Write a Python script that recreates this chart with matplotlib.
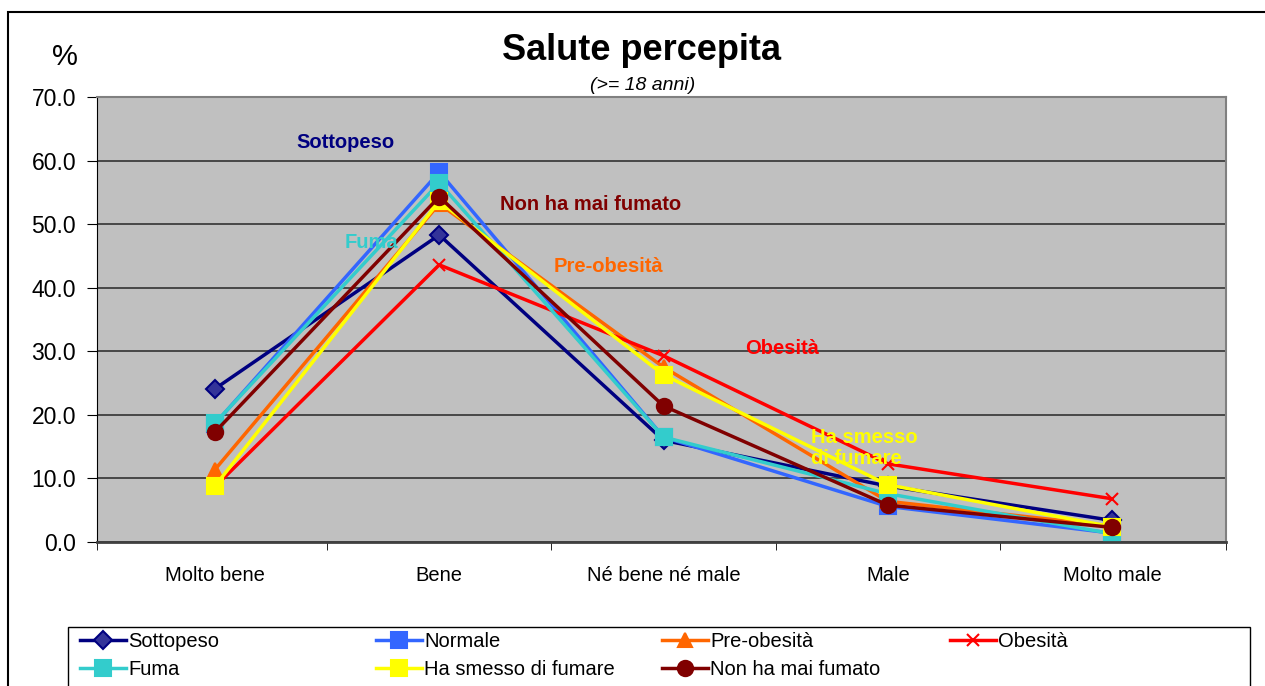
import matplotlib.pyplot as plt
import numpy as np
from matplotlib.patches import Rectangle

plt.rcParams['font.family'] = ['Liberation Sans', 'DejaVu Sans']

categories = ["Molto bene", "Bene", "Né bene né male", "Male", "Molto male"]

sottopeso = [24.1, 48.3, 16.0, 8.8, 3.4]
normale = [18.6, 58.2, 16.5, 5.6, 1.4]
pre_obesita = [11.4, 53.2, 27.5, 6.4, 2.5]
obesita = [8.7, 43.6, 29.3, 12.3, 6.8]
fuma = [18.7, 56.5, 16.5, 7.6, 1.3]
ha_smesso = [8.8, 53.6, 26.3, 9.0, 2.4]
non_fumato = [17.3, 54.3, 21.4, 5.8, 2.3]

series = [
    ("Sottopeso", sottopeso, "#000080", "D", "#333399", 9),
    ("Normale", normale, "#3366FF", "s", "#3366FF", 11),
    ("Pre-obesità", pre_obesita, "#FF6600", "^", "#FF6600", 10),
    ("Obesità", obesita, "#FF0000", "x", "#FF0000", 9),
    ("Fuma", fuma, "#33CCCC", "s", "#33CCCC", 11),
    ("Ha smesso di fumare", ha_smesso, "#FFFF00", "s", "#FFFF00", 11),
    ("Non ha mai fumato", non_fumato, "#800000", "o", "#800000", 11),
]

W, H = 1265, 686
fig = plt.figure(figsize=(12.65, 6.86), dpi=100)
ax = fig.add_axes([97 / W, 1 - 542 / H, 1129 / W, 445 / H])
ax.set_facecolor("#C0C0C0")

# outer chart border
fig.patches.append(Rectangle((8 / W, -0.1), 1.2, 1 - 12 / H + 0.1,
                             transform=fig.transFigure, fill=False,
                             edgecolor="black", linewidth=1.5))

x = np.arange(len(categories))
handles = {}
for name, vals, col, mk, mfc, ms in series:
    line, = ax.plot(x, vals, color=col, linewidth=2.5, marker=mk, markersize=ms,
                    markerfacecolor=mfc,
                    markeredgecolor=col if mk != "D" else "#000080",
                    markeredgewidth=1.5, label=name)
    handles[name] = line

x_lo, x_hi = -0.526, 4.508
ax.set_xlim(x_lo, x_hi)
ax.set_ylim(0, 70)
ax.set_yticks(np.arange(0, 71, 10))
ax.set_yticklabels(["%.1f" % v for v in np.arange(0, 71, 10)], fontsize=16.5)
ax.set_xticks(x)
ax.set_xticklabels(categories, fontsize=14.5)
ax.tick_params(axis="x", length=0, pad=17)
ax.tick_params(axis="y", length=7, direction="out", pad=8)
ax.set_xticks([x_lo, 0.5, 1.5, 2.5, 3.5, x_hi], minor=True)
ax.tick_params(axis="x", which="minor", length=6, direction="out")
ax.grid(axis="y", color="#333333", linewidth=1.2)
ax.set_axisbelow(True)
for s in ["top", "right"]:
    ax.spines[s].set_color("#808080")
    ax.spines[s].set_linewidth(1.5)
ax.spines["left"].set_color("black")
ax.spines["bottom"].set_color("#404040")
ax.spines["bottom"].set_linewidth(2)

fig.text(641 / W, 1 - 50 / H, "Salute percepita", ha="center", va="center",
         fontsize=26, fontweight="bold")
fig.text(643 / W, 1 - 85 / H, "(>= 18 anni)", ha="center", va="center",
         fontsize=14, style="italic")
fig.text(65 / W, 1 - 57 / H, "%", ha="center", va="center", fontsize=21)

# series labels inside the plot
labels = [
    ("Sottopeso", 345, 143, "#000080"),
    ("Non ha mai fumato", 591, 204, "#800000"),
    ("Fuma", 371, 243, "#33CCCC"),
    ("Pre-obesità", 608, 266, "#FF6600"),
    ("Obesità", 782, 349, "#FF0000"),
]
for txt, px, py, col in labels:
    fig.text(px / W, 1 - py / H, txt, ha="center", va="center",
             fontsize=14.5, fontweight="bold", color=col)
fig.text(811 / W, 1 - 448 / H, "Ha smesso\ndi fumare", ha="left", va="center",
         fontsize=14.5, fontweight="bold", color="#FFFF00", linespacing=1.15)

# legend: one small legend per column, inside a single frame
fig.patches.append(Rectangle((68 / W, -0.1), 1182 / W, 1 - 627 / H + 0.1,
                             transform=fig.transFigure, fill=True, facecolor="white",
                             edgecolor="black", linewidth=1.0, zorder=5))
columns = [["Sottopeso", "Fuma"], ["Normale", "Ha smesso di fumare"],
           ["Pre-obesità", "Non ha mai fumato"], ["Obesità"]]
col_x = [76, 372, 658, 946]
for names, cx in zip(columns, col_x):
    lg = fig.legend([handles[n] for n in names], names, loc="upper left",
                    bbox_to_anchor=(cx / W, 1 - 628 / H), frameon=False,
                    fontsize=14.5, handlelength=2.3, handletextpad=0.1,
                    borderpad=0.2, labelspacing=0.45, borderaxespad=0)
    lg.set_zorder(6)

fig.savefig("out.png", dpi=100, facecolor="white")
